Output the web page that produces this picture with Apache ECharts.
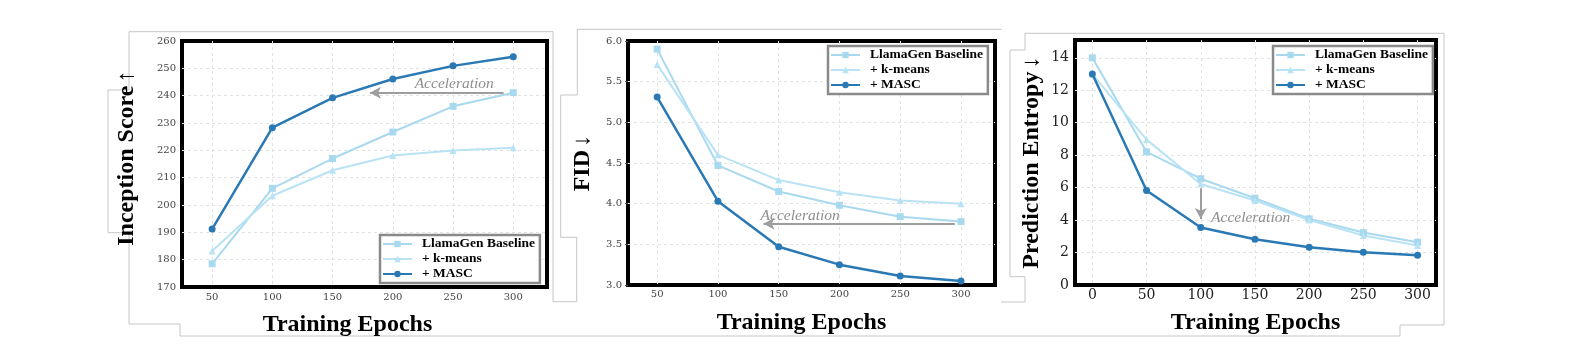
<!DOCTYPE html>
<html>
<head>
<meta charset="utf-8">
<script src="https://cdn.jsdelivr.net/npm/echarts@6/dist/echarts.min.js"></script>
<style>html,body{margin:0;padding:0;background:#fff;}#c{width:1589px;height:352px;}</style>
</head>
<body>
<div id="c"></div>
<script>
// ---- data ----
const epochs = [50, 100, 150, 200, 250, 300];
const epochsEntropy = [0, 50, 100, 150, 200, 250, 300];
const seriesNames = ['LlamaGen Baseline', '+ k-means', '+ MASC'];

const isBaseline = [178.5, 206.1, 217.0, 226.7, 236.1, 241.1];
const isKmeans   = [183.2, 203.4, 212.7, 218.1, 219.9, 220.9];
const isMasc     = [191.2, 228.3, 239.2, 246.1, 250.9, 254.2];

const fidBaseline = [5.90, 4.47, 4.15, 3.98, 3.84, 3.78];
const fidKmeans   = [5.71, 4.60, 4.29, 4.14, 4.04, 4.00];
const fidMasc     = [5.31, 4.03, 3.47, 3.25, 3.11, 3.05];

const entBaseline = [14.0, 8.21, 6.55, 5.35, 4.08, 3.23, 2.64];
const entKmeans   = [13.0, 8.96, 6.22, 5.21, 4.01, 3.05, 2.43];
const entMasc     = [13.01, 5.83, 3.54, 2.82, 2.33, 2.02, 1.83];

// acceleration annotations (arrow start/end and label point, in data units)
const accelIS  = { from: [292, 241.1], to: [181, 241.1], text: [251, 244.2] };
const accelFID = { from: [295, 3.753], to: [137.5, 3.753], text: [167.7, 3.855] };
const accelEnt = { from: [100, 5.97], to: [100, 4.07], text: [146, 4.12] };
const accelLabel = 'Acceleration';

// ---- styles ----
const cBase = '#a9d9ef', cKm = '#b9e3f5', cMasc = '#2a79b5';
const serif = 'Liberation Serif';
const zip = (xs, ys) => xs.map((x, i) => [x, ys[i]]);

function mkSeries(idx, xs, b, k, m, acc) {
  const common = { type: 'line', xAxisIndex: idx, yAxisIndex: idx, animation: false, z: 3 };
  return [
    Object.assign({}, common, { name: seriesNames[0], data: zip(xs, b), symbol: 'rect', symbolSize: 7,
      itemStyle: { color: cBase }, lineStyle: { color: cBase, width: 2 } }),
    Object.assign({}, common, { name: seriesNames[1], data: zip(xs, k), symbol: 'triangle', symbolSize: 7,
      itemStyle: { color: cKm }, lineStyle: { color: cKm, width: 2 } }),
    Object.assign({}, common, { name: seriesNames[2], data: zip(xs, m), symbol: 'circle', symbolSize: 7,
      itemStyle: { color: cMasc }, lineStyle: { color: cMasc, width: 2.5 }, z: 4,
      markLine: { silent: true, animation: false, symbol: ['none', 'arrow'], symbolSize: [9, 11],
        lineStyle: { color: '#9e9e9e', width: 2, type: 'solid' }, label: { show: false },
        emphasis: { disabled: true },
        data: [[{ coord: acc.from }, { coord: acc.to }]] },
      markPoint: { silent: true, animation: false, symbol: 'circle', symbolSize: 0,
        label: { show: true, position: 'inside', formatter: accelLabel, fontFamily: serif,
          fontStyle: 'italic', fontSize: 15.5, color: '#8e8e8e' },
        data: [{ coord: acc.text }] } })
  ];
}

const splitStyle = { show: true, showMinLine: false, showMaxLine: false,
  lineStyle: { color: '#e2e2e2', width: 1, type: [3, 3] } };
const titleStyle = { fontFamily: serif, fontWeight: 'bold', fontSize: 24, color: '#000' };

function xAxis(idx, min, max, lblSize, lblColor, margin, pad) {
  return { gridIndex: idx, type: 'value', min: min, max: max, splitNumber: 5,
    name: 'Training Epochs', nameLocation: 'middle', nameGap: 26,
    nameTextStyle: Object.assign({}, titleStyle, { padding: pad }),
    axisLine: { show: false }, axisTick: { show: false }, splitLine: splitStyle,
    axisLabel: { showMinLabel: false, showMaxLabel: false, fontFamily: 'DejaVu Serif',
      fontSize: lblSize, color: lblColor, margin: margin } };
}

function yAxis(idx, min, max, interval, name, gap, lblSize, lblColor, fmt, pad, tick) {
  return { gridIndex: idx, type: 'value', min: min, max: max, interval: interval,
    name: name, nameLocation: 'middle', nameRotate: 90, nameGap: gap,
    nameTextStyle: { padding: pad, rich: {
      t: { fontFamily: serif, fontWeight: 'bold', fontSize: 24, color: '#000' },
      a: { fontFamily: serif, fontWeight: 'normal', fontSize: 24, color: '#000' } } },
    axisLine: { show: false }, axisTick: { show: tick, length: 3, lineStyle: { color: '#555' } },
    splitLine: splitStyle,
    axisLabel: { showMaxLabel: max % interval === 0, fontFamily: 'DejaVu Serif', fontSize: lblSize,
      color: lblColor, margin: 6, formatter: fmt } };
}

function legend(left, top) {
  return { data: seriesNames, left: left, top: top, orient: 'vertical', backgroundColor: '#fff',
    borderColor: '#8a8a8a', borderWidth: 2.5, borderRadius: 0, padding: [2, 5, 2, 2], itemGap: 1,
    itemWidth: 29, itemHeight: 8, selectedMode: false, z: 10,
    textStyle: { fontFamily: serif, fontWeight: 'bold', fontSize: 13.5, color: '#000',
      lineHeight: 14, padding: [0, 0, 0, 5] } };
}

const gridStyle = { show: true, borderColor: '#000', borderWidth: 4, backgroundColor: 'transparent', containLabel: false };

const deco = { type: 'polyline', silent: true, z: -1,
  shape: { points: [[553,31.7],[129,31.7],[129,90],[108,90],[108,232.7],[129,232.7],[129,324],[180,324],
    [180,336],[1400,336],[1400,325],[1444,325],[1444,33.3],[1025,33.3],[1025,50],[1010,50],[1010,276.7],
    [1025,276.7],[1025,302],[1001,302]] },
  style: { stroke: '#c6c6c6', lineWidth: 1, fill: null } };
const deco2 = { type: 'polyline', silent: true, z: -1,
  shape: { points: [[553,31.7],[553,301.7],[576.7,301.7],[576.7,237.3],[560.7,237.3],[560.7,95],
    [577.3,95],[577.3,29.3],[1001.7,29.3]] },
  style: { stroke: '#c6c6c6', lineWidth: 1, fill: null } };

const option = {
  backgroundColor: '#fff',
  animation: false,
  graphic: { elements: [deco, deco2] },
  grid: [
    Object.assign({ left: 182, top: 41, width: 365, height: 246 }, gridStyle),
    Object.assign({ left: 628, top: 41, width: 367, height: 244 }, gridStyle),
    Object.assign({ left: 1075, top: 40, width: 361, height: 245 }, gridStyle)
  ],
  xAxis: [
    xAxis(0, 25, 328, 10, '#444', 5, [0, 34, 0, 0]),
    xAxis(1, 26, 328, 10, '#444', 4, [0, 20, 0, 0]),
    xAxis(2, -16, 317, 14, '#222', 3, [0, 0, 0, 0])
  ],
  yAxis: [
    yAxis(0, 170, 260, 10, '{t|Inception Score} {a|↑}', 43, 10, '#444', v => v, [0, 0, 0, 12], false),
    yAxis(1, 3, 6, 0.5, '{t|FID} {a|↓}', 33, 10, '#444', v => v.toFixed(1), [0, 0, 0, 0], true),
    yAxis(2, 0, 15.1, 2, '{t|Prediction Entropy} {a|↓}', 31, 14, '#222', v => v, [0, 0, 0, 0], false)
  ],
  legend: [legend(380, 235), legend(828, 46), legend(1273, 46)],
  series: [].concat(
    mkSeries(0, epochs, isBaseline, isKmeans, isMasc, accelIS),
    mkSeries(1, epochs, fidBaseline, fidKmeans, fidMasc, accelFID),
    mkSeries(2, epochsEntropy, entBaseline, entKmeans, entMasc, accelEnt)
  )
};

const chart = echarts.init(document.getElementById('c'), null, { renderer: 'canvas' });
chart.setOption(option);
</script>
</body>
</html>
